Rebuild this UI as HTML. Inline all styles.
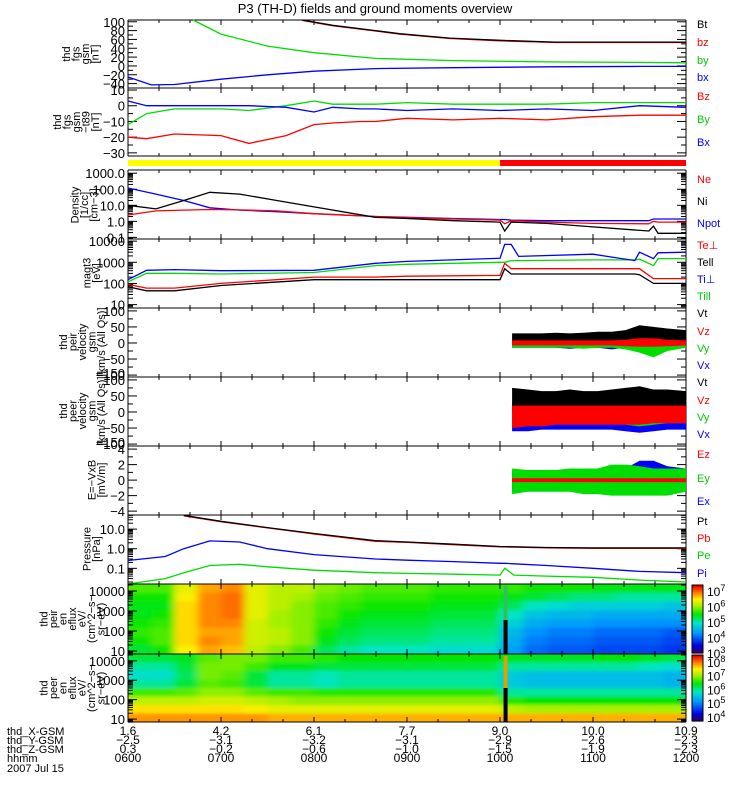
<!DOCTYPE html>
<html><head><meta charset="utf-8"><style>
body{margin:0;background:#fff;width:750px;height:800px;overflow:hidden}
svg{display:block;font-family:"Liberation Sans",sans-serif}
</style></head><body>
<svg id="s" width="750" height="800" viewBox="0 0 750 800">
<defs><filter id="bl" x="0" y="0" width="1" height="1"><feGaussianBlur stdDeviation="4 1.5"/></filter>
<clipPath id="c9"><rect x="128" y="584" width="558" height="70"/></clipPath>
<clipPath id="c10"><rect x="128" y="654" width="558" height="68"/></clipPath></defs>
<text x="375" y="13" font-size="13" text-anchor="middle">P3 (TH-D) fields and ground moments overview</text>
</svg>
<script>
// ---- data ----
const hours=[6,7,8,9,10,11,12];
const hhmm=["0600","0700","0800","0900","1000","1100","1200"];
const posX=["1.6","4.2","6.1","7.7","9.0","10.0","10.9"];
const posY=["-2.5","-3.1","-3.2","-3.1","-2.9","-2.6","-2.3"];
const posZ=["0.3","-0.2","-0.6","-1.0","-1.5","-1.9","-2.3"];
const btT=[7.87,8.2,8.66,8.92,9.46,10.0,10.6,11.2,12];
const btV=[104,92,80,73,63,58,54,54,54];
const bzV=[103,91,79,72,62,57,53,53,53];
const byT=[6.7,7.0,7.5,8.0,8.66,9.5,10.5,11.5,12];
const byV=[104,72,45,30,17,12,9,8,7];
const bxT=[6,6.25,6.5,7,7.5,8,8.66,9.5,10.5,11.5,12];
const bxV=[-25,-43,-42,-30,-20,-12,-6,-4,-2,-1,-1];
const dT=[6,6.2,6.5,7,7.3,7.7,8,8.2,8.5,8.66,9,9.5,10,10.5,11,11.5,12];
const dBz=[-20,-21,-18,-19,-24,-19,-12,-11,-10,-10,-8,-9,-8,-9,-7,-6,-6];
const dBy=[-12,-5,-2,-2,-3,0,3,1,1,1,2,1,1,1,2,2,2];
const dBx=[3,0,0,0,0,-1,-4,-1,-2,-2,-3,-2,-3,-2,-3,0,-1];
const nT=[6,6.3,6.6,6.88,7.2,7.6,8,8.66,9,9.5,10,10.05,10.12,10.5,11,11.6,11.65,11.7,12];
const nNi=[10,6,20,65,50,20,8,1.8,1.5,1.1,0.9,0.25,0.9,0.75,0.45,0.25,0.5,0.18,0.18];
const nNe=[2.5,4.5,5,5.5,5.2,4.5,3,2,1.7,1.4,1.2,0.7,1.1,0.9,0.75,0.7,1.0,0.9,0.9];
const nNp=[120,50,20,7,5,4,3,2,1.8,1.5,1.3,1.3,1.2,1.1,1.1,1.1,1.4,1.4,1.4];
const tT=[6,6.2,6.5,7,8,8.66,9,10,10.05,10.12,10.2,11,11.45,11.5,11.65,11.7,12];
const tTip=[150,420,450,400,420,900,1100,1550,7000,7000,1900,2400,1200,3000,1500,2800,3000];
const tTil=[120,300,300,280,330,700,800,1000,1000,1200,1200,1300,1300,1400,700,1500,1500];
const tTep=[90,60,60,100,200,200,220,240,900,500,500,500,500,500,170,170,170];
const tTel=[70,45,45,80,150,150,150,150,500,280,280,280,280,260,100,100,100];
const vT=[10.13,10.3,10.45,10.6,10.75,10.9,11.05,11.2,11.35,11.5,11.65,11.8,12];
const v1tLo=[5,5,5,5,5,5,5,5,5,10,10,8,5], v1tHi=[30,30,30,32,30,32,35,35,40,55,50,45,40];
const v1zLo=[-8,-8,-8,-8,-8,-8,-8,-8,-10,-12,-12,-10,-8], v1zHi=[8,8,8,8,8,8,8,8,10,15,15,10,8];
const v1yLo=[-15,-15,-15,-15,-15,-18,-15,-15,-20,-30,-45,-25,-15], v1yHi=[10,10,10,10,10,10,10,10,10,12,10,10,10];
const v1xLo=[-15,-15,-15,-15,-18,-15,-15,-20,-15,-25,-20,-15,-15], v1xHi=[10,10,10,10,10,10,10,10,10,12,12,10,10];
const v2tLo=[0,0,0,0,0,0,0,0,0,0,0,0,0], v2tHi=[75,70,65,65,70,65,65,70,75,80,70,70,65];
const v2zLo=[-50,-45,-45,-40,-40,-40,-40,-40,-40,-40,-35,-35,-35], v2zHi=[20,20,20,20,20,20,20,20,20,20,20,20,20];
const v2yLo=[-40,-40,-35,-35,-35,-35,-35,-35,-40,-45,-40,-35,-35], v2yHi=[30,30,30,30,30,30,30,30,30,30,30,30,30];
const v2xLo=[-60,-60,-55,-55,-55,-55,-55,-55,-60,-65,-60,-55,-55], v2xHi=[20,20,20,20,20,20,20,20,20,20,20,20,20];
const eyLo=[-1.8,-1.5,-1.5,-1.5,-1.5,-1.8,-1.8,-2,-2,-2,-2,-2,-1.5], eyHi=[1.5,1.3,1.3,1.3,1.5,1.5,1.5,2,2,1.8,1.5,1.5,1.5];
const exLo=[-1.5,-1.2,-1.2,-1.2,-1.2,-1.5,-1.5,-1.5,-1.5,-1,-1,-1,-1], exHi=[1.2,1.0,1.0,1.0,1.2,1.2,1.2,1.2,1.5,2.5,2.5,1.8,1.5];
const ezLo=[-0.25,-0.25,-0.25,-0.25,-0.25,-0.25,-0.25,-0.25,-0.25,-0.25,-0.25,-0.25,-0.25], ezHi=[0.25,0.25,0.25,0.25,0.25,0.25,0.25,0.25,0.25,0.25,0.25,0.25,0.25];
const pT=[6,6.4,6.6,6.88,7.2,7.5,8,8.66,9,9.5,10,10.05,10.15,10.5,11,11.5,12];
const pPi=[0.25,0.4,1.0,2.5,2.2,1.0,0.5,0.3,0.26,0.22,0.18,0.18,0.17,0.14,0.1,0.07,0.06];
const pPe=[0.012,0.03,0.06,0.14,0.16,0.12,0.08,0.06,0.055,0.05,0.045,0.1,0.045,0.04,0.035,0.025,0.02];
const ptT=[6.6,7,7.5,8,8.66,9,9.5,10,10.5,11,12];
const pPt=[50,25,12,6,2.6,2.2,1.7,1.3,1.15,1.1,1.1];
const pPb=[48,24,11.5,5.6,2.4,2.1,1.6,1.25,1.1,1.05,1.05];
const ionFlux=[
[5.8,5.8,6.4,6.8,6.9,6.4,6.2,6.2,6.0,5.9,5.8,5.8,5.8,5.7,5.7,5.7,5.7,5.6,5.6,5.6,5.5,5.5,5.5,5.5],
[5.6,5.6,6.5,6.9,7.0,6.4,6.2,6.1,5.9,5.8,5.7,5.7,5.7,5.6,5.6,5.6,5.5,5.4,5.3,5.2,5.2,5.1,5.1,5.1],
[5.5,5.5,6.6,6.9,7.0,6.4,6.2,6.0,5.8,5.7,5.6,5.6,5.6,5.5,5.5,5.5,5.3,5.0,4.9,4.8,4.8,4.8,4.8,4.7],
[5.5,5.6,6.6,6.9,7.0,6.4,6.1,6.0,5.8,5.6,5.5,5.5,5.5,5.4,5.4,5.4,5.0,4.7,4.6,4.6,4.5,4.5,4.5,4.5],
[5.6,5.7,6.6,6.9,6.9,6.3,6.1,6.0,5.7,5.5,5.4,5.4,5.4,5.3,5.3,5.3,4.8,4.5,4.4,4.4,4.3,4.3,4.3,4.3],
[5.7,5.8,6.6,6.8,6.8,6.3,6.2,6.0,5.6,5.4,5.3,5.3,5.3,5.2,5.2,5.2,4.6,4.3,4.2,4.2,4.1,4.1,4.1,4.0],
[5.6,5.8,6.6,6.9,6.8,6.3,6.2,6.0,5.5,5.3,5.2,5.2,5.2,5.1,5.1,5.1,4.5,4.2,4.1,4.1,4.0,4.0,4.0,3.9],
[5.4,5.6,6.5,6.8,6.7,6.2,6.0,5.8,5.3,5.1,5.0,5.0,5.0,4.9,4.9,4.9,4.4,4.1,4.0,4.0,3.9,3.9,3.9,3.8]];
const eleFlux=[
[6.3,6.3,6.4,6.8,6.9,6.9,6.7,6.7,6.6,6.5,6.5,6.5,6.5,6.5,6.5,6.5,6.4,6.4,6.4,6.4,6.5,6.5,6.4,6.3],
[6.0,6.0,6.3,6.9,6.9,6.7,6.4,6.4,6.3,6.3,6.3,6.3,6.3,6.3,6.3,6.3,6.0,6.0,6.0,6.0,6.0,6.0,5.9,5.8],
[5.8,5.8,6.2,6.9,6.8,6.3,6.0,6.0,5.9,6.0,6.0,6.0,6.0,6.0,6.0,6.0,5.6,5.5,5.5,5.5,5.5,5.5,5.5,5.4],
[6.0,6.0,6.3,6.8,6.7,6.3,6.0,6.0,5.9,6.0,6.0,6.0,6.0,6.0,6.0,6.0,5.6,5.5,5.5,5.5,5.5,5.5,5.5,5.4],
[6.7,6.7,6.8,7.0,7.0,6.8,6.7,6.7,6.6,6.6,6.6,6.6,6.6,6.6,6.6,6.6,6.0,6.0,6.0,6.0,6.0,6.0,6.0,6.0],
[7.2,7.2,7.2,7.3,7.3,7.2,7.1,7.0,7.0,7.0,7.0,7.0,7.0,7.0,7.0,7.0,6.6,6.5,6.5,6.5,6.5,6.5,6.5,6.5],
[7.6,7.6,7.6,7.6,7.6,7.5,7.4,7.4,7.4,7.4,7.4,7.4,7.4,7.4,7.4,7.4,7.2,7.1,7.1,7.1,7.1,7.1,7.1,7.1],
[7.9,7.9,7.9,7.9,7.9,7.9,7.8,7.8,7.8,7.8,7.8,7.8,7.8,7.8,7.8,7.8,7.8,7.8,7.8,7.8,7.8,7.8,7.8,7.8]];
const specStart=6, specStep=0.25;
const modeSwitch=10.0, gapTime=10.06;

// ---- helpers ----
const S=document.getElementById('s'), NS='http://www.w3.org/2000/svg';
const X0=128,X1=686;
function xs(t){return X0+(t-6)*(X1-X0)/6;}
function mk(tag,at,par){const e=document.createElementNS(NS,tag);for(const k in at)e.setAttribute(k,at[k]);(par||S).appendChild(e);return e;}
function lin(top,bot,v0,v1){return v=>bot-(v-v0)/(v1-v0)*(bot-top);}
function lg(top,bot,l0,l1){return v=>bot-(Math.log10(v)-l0)/(l1-l0)*(bot-top);}
function clampY(y,top,bot){return Math.max(top,Math.min(bot,y));}
function line(T,V,ys,col,name,top,bot){
  const p=T.map((t,i)=>xs(t).toFixed(1)+','+clampY(ys(V[i]),top,bot).toFixed(1)).join(' ');
  const e=mk('polyline',{points:p,fill:'none',stroke:col,'stroke-width':1.3});
  
  
}
function band(T,lo,hi,ys,col,name){
  const a=T.map((t,i)=>xs(t).toFixed(1)+','+ys(hi[i]).toFixed(1));
  const b=T.map((t,i)=>xs(t).toFixed(1)+','+ys(lo[i]).toFixed(1)).reverse();
  const e=mk('polygon',{points:a.concat(b).join(' '),fill:col});
  
  
}
function txt(x,y,s,col,anchor,size,name){
  const e=mk('text',{x:x,y:y,fill:col||'#000','font-size':size||11,'text-anchor':anchor||'start'});e.textContent=s;
  
  
  return e;
}
function frame(top,bot,name){
  const g=mk('g',{});
  
  
  mk('line',{x1:X0,y1:top,x2:X1,y2:top,stroke:'#000'},g);
  mk('line',{x1:X0,y1:bot,x2:X1,y2:bot,stroke:'#000'},g);
  mk('line',{x1:X0,y1:top,x2:X0,y2:bot,stroke:'#000'},g);
  mk('line',{x1:X1,y1:top,x2:X1,y2:bot,stroke:'#000'},g);
  for(let m=0;m<=18;m++){const x=X0+m*(X1-X0)/18;const L=m%3==0?5:3;
    mk('line',{x1:x,y1:top,x2:x,y2:top+L,stroke:'#000'},g);mk('line',{x1:x,y1:bot,x2:x,y2:bot-L,stroke:'#000'},g);}
}
function yticksLin(vals,ys,minor,labels){
  vals.forEach((v,i)=>{const y=ys(v);
    mk('line',{x1:X0,y1:y,x2:X0+9,y2:y,stroke:'#000'});mk('line',{x1:X1,y1:y,x2:X1-9,y2:y,stroke:'#000'});
    txt(X0-3,y+5,labels?labels[i]:String(v).replace('-','\u2212'),'#000','end',13,'y-tick-label');});
  minor.forEach(v=>{const y=ys(v);mk('line',{x1:X0,y1:y,x2:X0+5,y2:y,stroke:'#000'});mk('line',{x1:X1,y1:y,x2:X1-5,y2:y,stroke:'#000'});});
}
function yticksLog(d0,d1,ys,labels,top,bot){
  for(let d=d0;d<=d1;d++){
    for(let k=1;k<10;k++){const v=k*Math.pow(10,d);const y=ys(v);if(y<top-0.5||y>bot+0.5)continue;
      const L=k==1?9:5;mk('line',{x1:X0,y1:y,x2:X0+L,y2:y,stroke:'#000'});mk('line',{x1:X1,y1:y,x2:X1-L,y2:y,stroke:'#000'});}
  }
  labels.forEach(([v,s])=>txt(X0-3,ys(v)+5,s,'#000','end',13,'y-tick-label'));
}
function ytitle(cx,cy,lines,name){
  const g=mk('g',{transform:`translate(${cx},${cy}) rotate(-90)`});
  
  
  const n=lines.length;
  lines.forEach((l,i)=>{const e=mk('text',{x:0,y:(i-(n-1)/2)*9.5+4,'font-size':11,'text-anchor':'middle'},g);e.textContent=l;});
}
function legend(items){items.forEach(([s,c,y])=>txt(697,y,s,c,'start',11,'legend-entry'));}

// ---- panel 1 ----
{const T=20,B=88,ys=lin(T,B,-50,104);frame(T,B,'panel-fgs-gsm');
 yticksLin([100,80,60,40,20,0,-20,-40],ys,[90,70,50,30,10,-10,-30,-50]);
 line(bxT,bxV,ys,'#0000ff','bx-line',T,B);line(byT,byV,ys,'#00dd00','by-line',T,B);
 line(btT,bzV,ys,'#ff0000','bz-line',T,B);line(btT,btV,ys,'#000','bt-line',T,B);
 ytitle(80,54,['thd','fgs','gsm','[nT]'],'y-axis-title-fgs');
 legend([['Bt','#000',28],['bz','#ff0000',46],['by','#00cc00',64],['bx','#0000ff',81]]);}
// ---- panel 2 ----
{const T=88,B=156,ys=lin(T,B,-32,11.3);frame(T,B,'panel-fgs-t89');
 yticksLin([10,0,-10,-20,-30],ys,[5,-5,-15,-25]);
 line(dT,dBz,ys,'#ff0000','bz-t89-line',T,B);line(dT,dBy,ys,'#00dd00','by-t89-line',T,B);line(dT,dBx,ys,'#0000ff','bx-t89-line',T,B);
 ytitle(76,122,['thd','fgs','gsm','\u2212t89','[nT]'],'y-axis-title-t89');
 legend([['Bz','#ff0000',100],['By','#00cc00',123],['Bx','#0000ff',146]]);}
// mode bar
{const e1=mk('rect',{x:X0,y:160,width:xs(modeSwitch)-X0,height:6,fill:'#ffff00'});
 const e2=mk('rect',{x:xs(modeSwitch),y:160,width:X1-xs(modeSwitch),height:6,fill:'#ff0000'});}
// ---- density ----
{const T=170,B=239,ys=lg(T,B,-1.1,3.2);frame(T,B,'panel-density');
 yticksLog(-2,3,ys,[[1000,'1000.0'],[100,'100.0'],[10,'10.0'],[1,'1.0'],[0.1,'0.1']],T,B);
 line(nT,nNp,ys,'#0000ff','npot-line',T,B);line(nT,nNe,ys,'#ff0000','ne-line',T,B);line(nT,nNi,ys,'#000','ni-line',T,B);
 ytitle(84,205,['Density','[1/cc]','[cm\u22123]'],'y-axis-title-density');
 legend([['Ne','#ff0000',183],['Ni','#000',205],['Npot','#0000ff',227]]);}
// ---- temperature ----
{const T=239,B=308,ys=lg(T,B,0.84,4.1);frame(T,B,'panel-temperature');
 yticksLog(0,4,ys,[[10000,'10000'],[1000,'1000'],[100,'100'],[10,'10']],T,B);
 line(tT,tTel,ys,'#000','te-par-line',T,B);line(tT,tTep,ys,'#ff0000','te-perp-line',T,B);
 line(tT,tTil,ys,'#00dd00','ti-par-line',T,B);line(tT,tTip,ys,'#0000ff','ti-perp-line',T,B);
 ytitle(91,273,['magt3','[eV]'],'y-axis-title-temperature');
 legend([['Te\u22a5','#ff0000',249],['Tell','#000',266],['Ti\u22a5','#0000ff',283],['Till','#00cc00',300]]);}
// ---- velocity 1 ----
{const T=308,B=377,ys=lin(T,B,-106,109);frame(T,B,'panel-peir-velocity');
 yticksLin([100,50,0,-50,-100],ys,[75,25,-25,-75]);txt(X0-3,B+1,'\u2212150','#000','end',13,'y-tick-label');
 band(vT,v1xLo,v1xHi,ys,'#0000ff','vx-band');band(vT,v1yLo,v1yHi,ys,'#00dd00','vy-band');
 band(vT,v1tLo,v1tHi,ys,'#000','vt-band');band(vT,v1zLo,v1zHi,ys,'#ff0000','vz-band');
 ytitle(82,342,['thd','peir','velocity','gsm','[km/s (All Qs)]'],'y-axis-title-peir-velocity');
 legend([['Vt','#000',317],['Vz','#ff0000',335],['Vy','#00cc00',352],['Vx','#0000ff',369]]);}
// ---- velocity 2 ----
{const T=377,B=446,ys=lin(T,B,-106,109);frame(T,B,'panel-peer-velocity');
 yticksLin([100,50,0,-50,-100],ys,[75,25,-25,-75]);txt(X0-3,B+1,'\u2212150','#000','end',13,'y-tick-label');
 band(vT,v2xLo,v2xHi,ys,'#0000ff','vx2-band');band(vT,v2yLo,v2yHi,ys,'#00dd00','vy2-band');
 band(vT,v2tLo,v2tHi,ys,'#000','vt2-band');band(vT,v2zLo,v2zHi,ys,'#ff0000','vz2-band');
 ytitle(82,411,['thd','peer','velocity','gsm','[km/s (All Qs)]'],'y-axis-title-peer-velocity');
 legend([['Vt','#000',386],['Vz','#ff0000',404],['Vy','#00cc00',421],['Vx','#0000ff',438]]);}
// ---- E field ----
{const T=446,B=515,ys=lin(T,B,-4.5,4.4);frame(T,B,'panel-efield');
 yticksLin([4,2,0,-2,-4],ys,[3,1,-1,-3]);
 band(vT,exLo,exHi,ys,'#0000ff','ex-band');band(vT,eyLo,eyHi,ys,'#00dd00','ey-band');band(vT,ezLo,ezHi,ys,'#ff0000','ez-band');
 ytitle(96,480,['E=\u2212VxB','[mV/m]'],'y-axis-title-efield');
 legend([['Ez','#ff0000',458],['Ey','#00cc00',482],['Ex','#0000ff',505]]);}
// ---- pressure ----
{const T=515,B=584,ys=lg(T,B,-1.8,1.72);frame(T,B,'panel-pressure');
 yticksLog(-2,1,ys,[[10,'10.0'],[1,'1.0'],[0.1,'0.1']],T,B);
 line(pT,pPe,ys,'#00dd00','pe-line',T,B);line(pT,pPi,ys,'#0000ff','pi-line',T,B);
 line(ptT,pPb,ys,'#ff0000','pb-line',T,B);line(ptT,pPt,ys,'#000','pt-line',T,B);
 ytitle(91,549,['Pressure','[nPa]'],'y-axis-title-pressure');
 legend([['Pt','#000',525],['Pb','#ff0000',542],['Pe','#00cc00',559],['Pi','#0000ff',577]]);}
// ---- spectrograms ----
const cmap=[[0,[60,0,80]],[0.12,[0,0,230]],[0.3,[0,150,255]],[0.45,[0,230,200]],[0.58,[0,230,0]],[0.7,[160,240,0]],[0.8,[255,240,0]],[0.9,[255,120,0]],[1,[230,0,0]]];
function col(f){f=Math.max(0,Math.min(1,f));for(let i=1;i<cmap.length;i++){if(f<=cmap[i][0]){const [a,ca]=cmap[i-1],[b,cb]=cmap[i];const u=(f-a)/(b-a);return 'rgb('+ca.map((c,j)=>Math.round(c+(cb[j]-c)*u)).join(',')+')';}}return 'rgb(230,0,0)';}
function spec(M,T,B,lmin,lmax,clip,name,title,cy){
  const g=mk('g',{'clip-path':`url(#${clip})`});
  
  
  const inner=mk('g',{filter:'url(#bl)'},g);
  const nr=M.length,rh=(B-T)/nr;
  M.forEach((row,r)=>row.forEach((v,c)=>{const x0=xs(specStart+c*specStep),x1=xs(specStart+(c+1)*specStep);
    mk('rect',{x:x0-(c==0?6:0),y:T+r*rh-(r==0?3:0),width:x1-x0+1+(c==0?6:0)+(c==row.length-1?6:0),height:rh+1+(r==0?3:0)+(r==nr-1?3:0),fill:col((v-lmin)/(lmax-lmin))},inner);}));
  const ys=lg(T,B,0.85,4.35);
  frame(T,B,name+'-frame');
  yticksLog(0,4,ys,[[10000,'10000'],[1000,'1000'],[100,'100'],[10,'10']],T,B);
  ytitle(72,cy,title,name+'-y-title');
  return ys;
}
spec(ionFlux,584,654,3,7.4,'c9','ion-spectrogram',['thd','peir','en','eflux','eV/','(cm^2\u2212s\u2212','sr\u2212eV)'],619);
spec(eleFlux,654,722,3.7,8.5,'c10','electron-spectrogram',['thd','peer','en','eflux','eV/','(cm^2\u2212s\u2212','sr\u2212eV)'],688);
{const gx=xs(gapTime)-2;
 const a=mk('rect',{x:gx,y:620,width:4,height:34,fill:'#000'});
 const b=mk('rect',{x:gx,y:586,width:4,height:34,fill:'#30c060'});
 const c=mk('rect',{x:gx,y:688,width:4,height:34,fill:'#000'});
 const d=mk('rect',{x:gx,y:656,width:4,height:32,fill:'#e0a000'});}
// colorbars
function cbar(T,B,lmin,lmax,labs,name){
  const g=mk('g',{});
  const n=40;for(let i=0;i<n;i++){const f=1-i/n;mk('rect',{x:692,y:T+i*(B-T)/n,width:11,height:(B-T)/n+0.6,fill:col(f)},g);}
  mk('rect',{x:692,y:T,width:11,height:B-T,fill:'none',stroke:'#000'},g);
  labs.forEach(p=>{const y=B-(p-lmin)/(lmax-lmin)*(B-T);const t=mk('text',{x:707,y:y+5,'font-size':12},g);t.textContent='10';
    const s=mk('tspan',{dy:-5,'font-size':9},t);s.textContent=p;});
}
cbar(585,653,3,7.4,[7,6,5,4,3],'ion-colorbar');
cbar(655,721,3.7,8.5,[8,7,6,5,4],'electron-colorbar');
// bottom labels
const rows=[['thd_X-GSM',posX,735],['thd_Y-GSM',posY,744],['thd_Z-GSM',posZ,753],['hhmm',hhmm,762]];
rows.forEach(([lab,vals,y])=>{txt(7,y,lab,'#000','start',11,'x-row-label');
  vals.forEach((v,i)=>txt(xs(hours[i]),y,v.replace('-','\u2212'),'#000','middle',12,'x-tick-label'));});
txt(7,772,'2007 Jul 15','#000','start',11,'date-label');
</script>
</body></html>
